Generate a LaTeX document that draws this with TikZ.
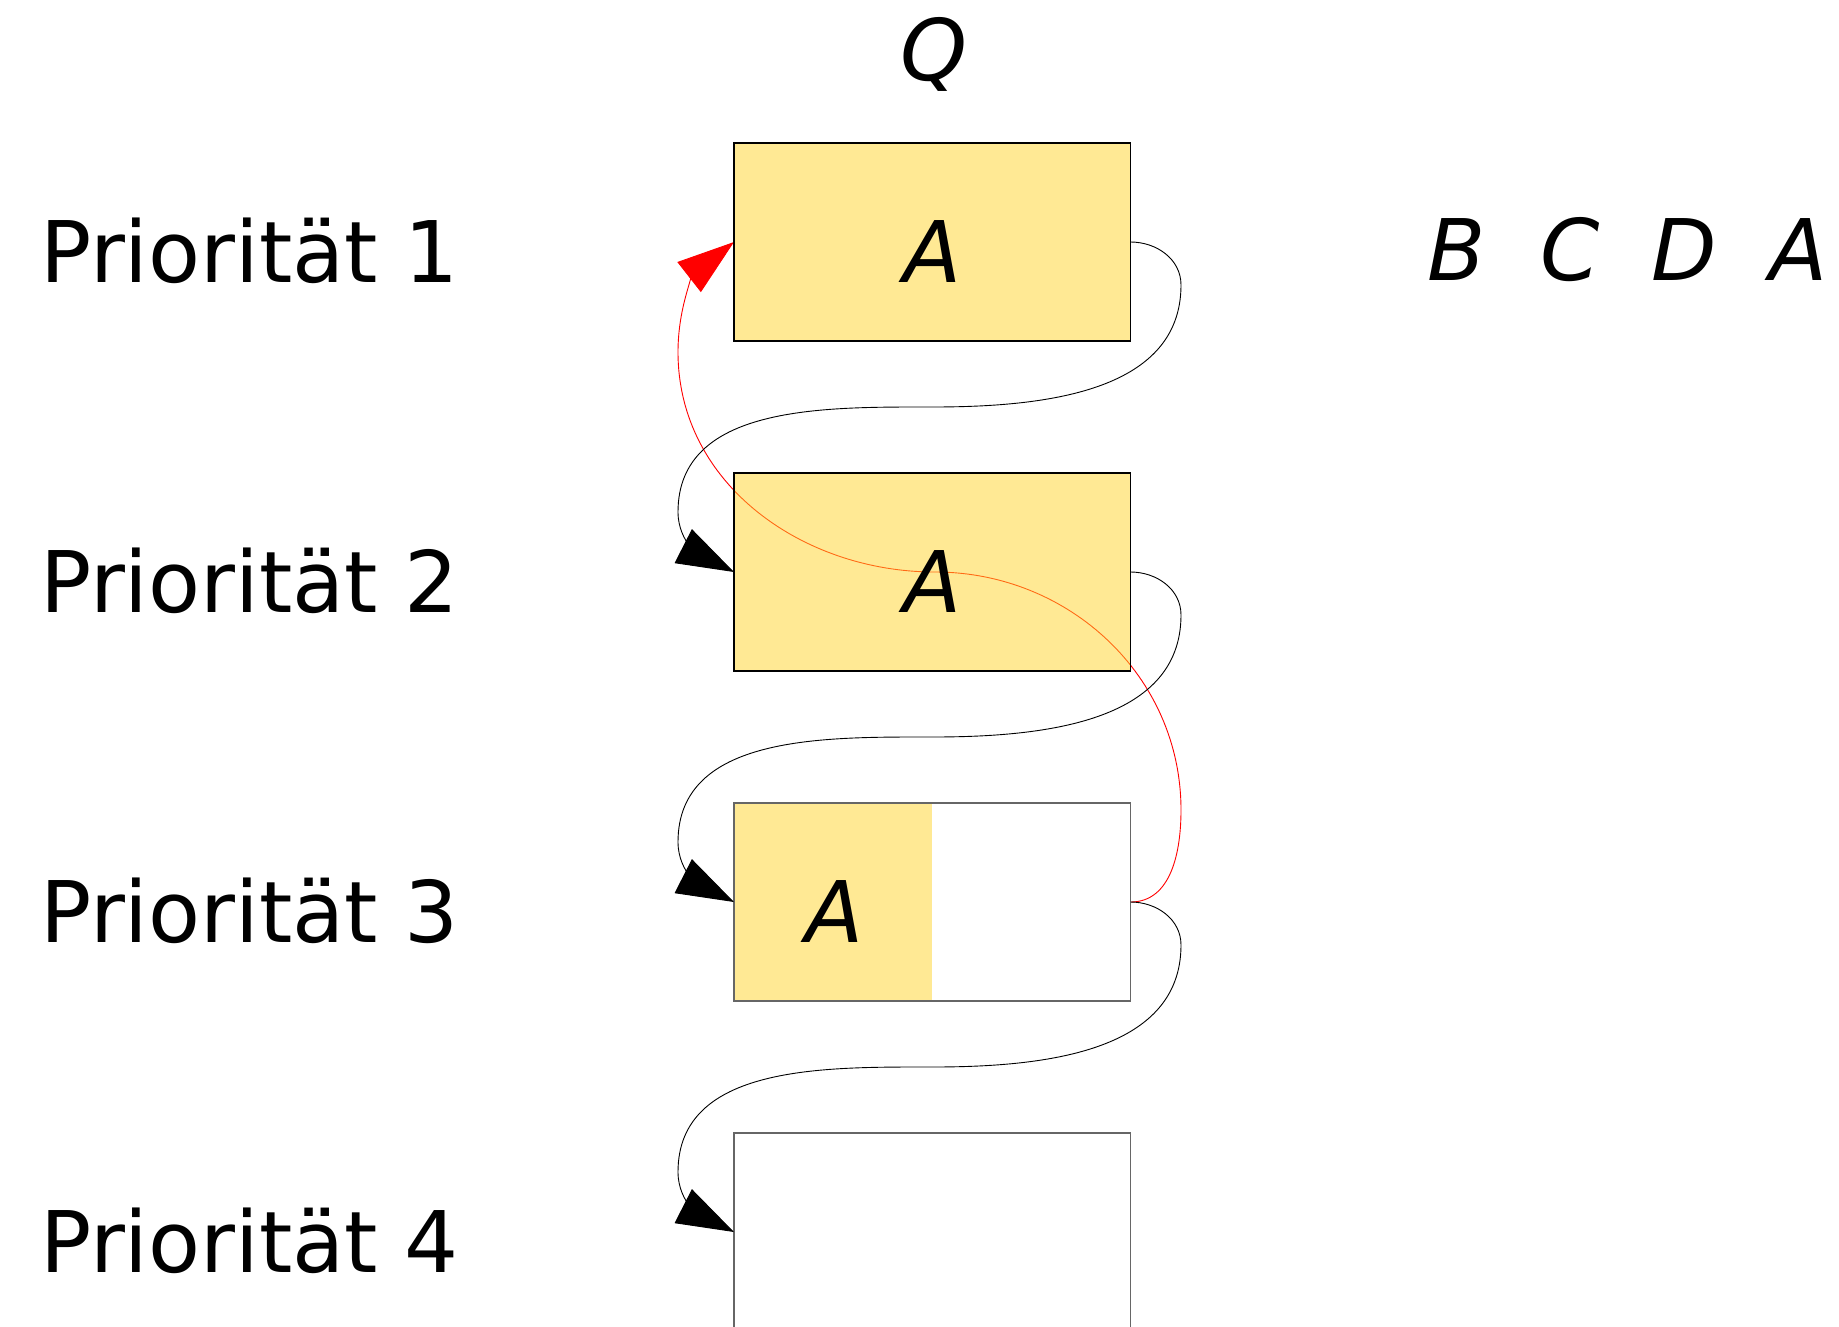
\documentclass[tikz,border=0pt]{standalone}
\usepackage{fontspec}
\setmainfont{DejaVu Sans}
\usetikzlibrary{arrows.meta}
\definecolor{queuefill}{HTML}{FFD42A}
\tikzset{
  big/.style={font=\fontsize{85}{100}\selectfont, inner sep=0pt},
  letter/.style={big, font=\fontsize{85}{100}\selectfont\itshape, anchor=base},
  prio/.style={big, anchor=base west},
  slot/.style={draw=black, line width=1.2pt, minimum width=396.6pt, minimum height=198pt, inner sep=0pt, outer sep=0pt},
  emptyslot/.style={draw=black!60, line width=1.1pt, minimum width=396.6pt, minimum height=198pt, inner sep=0pt, outer sep=0pt},
  filled/.style={fill=queuefill, fill opacity=0.5},
  link/.style={line width=0.9pt, -{Triangle[length=57pt,width=38pt]}},
  back/.style={red, line width=0.9pt, -{Triangle[length=57pt,width=38pt]}},
}
\begin{document}
\begin{tikzpicture}[x=1pt, y=1pt]
\useasboundingbox (0,0) rectangle (1839,-1326);

% priority levels
\node[prio] (p1) at (40,-282) {Priorität 1};
\node[prio] (p2) at (40,-612) {Priorität 2};
\node[prio] (p3) at (40,-942) {Priorität 3};
\node[prio] (p4) at (40,-1272) {Priorität 4};

% queue label
\node[letter] (q) at (934,-80) {Q};

% slot positions (outlines drawn after the red link)
\coordinate (c1) at (932.3,-242);
\coordinate (c2) at (932.3,-572);
\coordinate (c3) at (932.3,-902);
\coordinate (c4) at (932.3,-1232);

% red link back from level 3 to level 1 (under the fills)
\path (c3) ++(198.3,0) coordinate (r3);
\path (c1) ++(-198.3,0) coordinate (l1);
\draw[back] (r3) to[out=0,in=-90] (1181,-810)
  to[out=90,in=0] (935,-572)
  to[out=180,in=-90] (678,-352)
  to[out=90,in=218] (l1);

% slots
\node[slot, filled, text opacity=1] (s1) at (c1) {};
\node[slot, filled, text opacity=1] (s2) at (c2) {};
\fill[queuefill, fill opacity=0.5] (734,-803) rectangle (932.3,-1001);
\node[emptyslot] (s3) at (c3) {};
\node[emptyslot] (s4) at (c4) {};

% contents
\node[letter] (a1) at (933,-282) {A};
\node[letter] (a2) at (933,-612) {A};
\node[letter] (a3) at (835,-942) {A};

% pending items
\node[letter] (nb) at (1457,-280) {B};
\node[letter] (nc) at (1570,-280) {C};
\node[letter] (nd) at (1684,-280) {D};
\node[letter] (na) at (1799,-280) {A};

% links between consecutive levels
\draw[link] (s1.east) to[out=0,in=90] (1181,-285)
  to[out=-90,in=0] (932,-407)
  to[out=180,in=90] (678,-512)
  to[out=-90,in=153] (s2.west);
\draw[link] (s2.east) to[out=0,in=90] (1181,-615)
  to[out=-90,in=0] (932,-737)
  to[out=180,in=90] (678,-842)
  to[out=-90,in=153] (s3.west);
\draw[link] (s3.east) to[out=0,in=90] (1181,-945)
  to[out=-90,in=0] (932,-1067)
  to[out=180,in=90] (678,-1172)
  to[out=-90,in=153] (s4.west);
\end{tikzpicture}
\end{document}
